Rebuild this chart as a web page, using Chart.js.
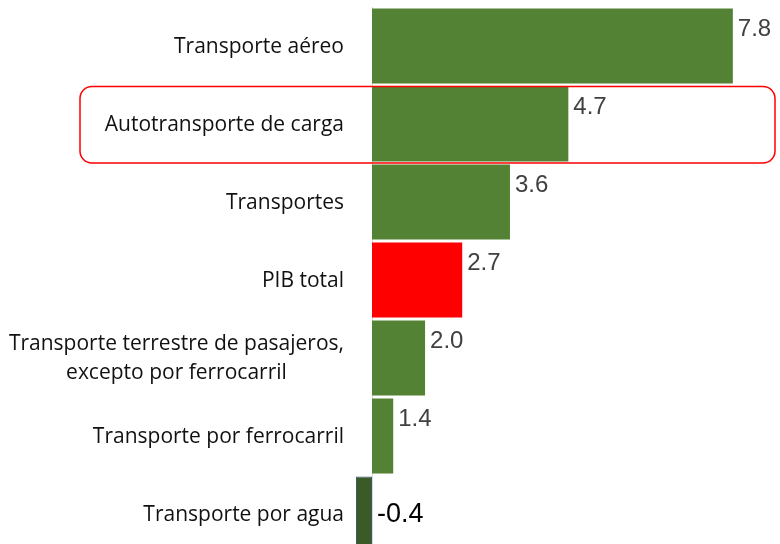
<!DOCTYPE html>
<html>
<head>
<meta charset="utf-8">
<script src="https://cdn.jsdelivr.net/npm/chart.js@4.4.1/dist/chart.umd.min.js"></script>
<style>
  html, body { margin: 0; padding: 0; background: #fff; overflow: hidden; }
  #wrap { position: relative; width: 780px; height: 553px; }
</style>
</head>
<body>
<div id="wrap"><canvas id="chart"></canvas></div>
<script>
// Categories (multi-line labels as arrays) and values
const categories = [
    ['Transporte aéreo'],
    ['Autotransporte de carga'],
    ['Transportes'],
    ['PIB total'],
    ['Transporte terrestre de pasajeros,', 'excepto por ferrocarril'],
    ['Transporte por ferrocarril'],
    ['Transporte por agua'],
];
const values = [7.8, 4.7, 3.6, 2.7, 2.0, 1.4, -0.4];
const valueLabels = ['7.8', '4.7', '3.6', '2.7', '2.0', '1.4', '-0.4'];
const highlightIndex = 1;   // boxed row
const totalIndex = 3;       // PIB total in red

const GREEN = '#548235';
const RED = '#FF0000';
const NEG_FILL = '#3A5A26';
const NEG_BORDER = '#3F5475';
const LABEL_FONT = '"Open Sans", sans-serif';
const VALUE_FONT = '"Liberation Sans", Arial, sans-serif';

const posData = values.map(v => (v >= 0 ? v : null));
const negData = values.map(v => (v < 0 ? v : null));

// ────────────────────────────────────────────
// Plugin: category labels, value labels, highlight box
// ────────────────────────────────────────────
const decor = {
    id: 'decor',
    afterDraw(chart) {
        const { ctx, scales: { y }, chartArea } = chart;
        ctx.save();

        // category labels (lines centred on each other, right edge near axis)
        ctx.font = '21px ' + LABEL_FONT;
        ctx.fillStyle = '#111';
        ctx.textAlign = 'center';
        ctx.textBaseline = 'middle';
        const rightEdge = chartArea.left - 28;
        const lineH = 29;
        categories.forEach((lines, i) => {
            const yc = y.getPixelForValue(i);
            const maxW = Math.max(...lines.map(l => ctx.measureText(l).width));
            const cx = rightEdge - maxW / 2;
            const y0 = yc - (lines.length - 1) * lineH / 2;
            lines.forEach((l, k) => ctx.fillText(l, cx, y0 + k * lineH + 1));
        });

        // value labels
        ctx.textAlign = 'left';
        const posMeta = chart.getDatasetMeta(0);
        const negMeta = chart.getDatasetMeta(1);
        values.forEach((v, i) => {
            if (v >= 0) {
                const bar = posMeta.data[i];
                ctx.font = '24px ' + VALUE_FONT;
                ctx.fillStyle = '#404040';
                ctx.fillText(valueLabels[i], bar.x + 5, bar.y - 17);
            } else {
                const bar = negMeta.data[i];
                ctx.font = '27px ' + VALUE_FONT;
                ctx.fillStyle = '#000';
                ctx.fillText(valueLabels[i], chartArea.left + 5, bar.y + 1);
            }
        });

        // highlight box around one row
        const step = y.getPixelForValue(1) - y.getPixelForValue(0);
        const hc = y.getPixelForValue(highlightIndex);
        const top = hc - step / 2 + 1.5;
        const h = step - 1.5;
        ctx.strokeStyle = RED;
        ctx.lineWidth = 1.5;
        ctx.beginPath();
        ctx.roundRect(80, top, chartArea.right + 5 - 80, h, 12);
        ctx.stroke();

        ctx.restore();
    },
};

new Chart(document.getElementById('chart'), {
    type: 'bar',
    data: {
        labels: categories.map(c => c.join(' ')),
        datasets: [
            {
                data: posData,
                xAxisID: 'x',
                backgroundColor: values.map((v, i) => (i === totalIndex ? RED : GREEN)),
                borderWidth: 0,
                grouped: false,
                barPercentage: 0.96,
                categoryPercentage: 1,
            },
            {
                data: negData,
                xAxisID: 'x2',
                backgroundColor: NEG_FILL,
                borderColor: NEG_BORDER,
                borderWidth: 1,
                borderSkipped: false,
                grouped: false,
                clip: false,
                barPercentage: 0.96,
                categoryPercentage: 1,
            },
        ],
    },
    options: {
        indexAxis: 'y',
        responsive: true,
        maintainAspectRatio: false,
        animation: false,
        layout: { padding: { top: 7, right: 10, bottom: 0, left: 0 } },
        plugins: {
            legend: { display: false },
            tooltip: { enabled: false },
        },
        scales: {
            x: { type: 'linear', display: false, min: 1, max: 8.5 },
            x2: { type: 'linear', display: false, min: 0, max: 9.95 },
            y: {
                grid: { display: false, drawTicks: false },
                border: { display: true, color: '#D9D9D9', width: 1 },
                ticks: { display: false },
                afterFit(scale) { scale.width = 372; },
            },
        },
    },
    plugins: [decor],
});
</script>
</body>
</html>
